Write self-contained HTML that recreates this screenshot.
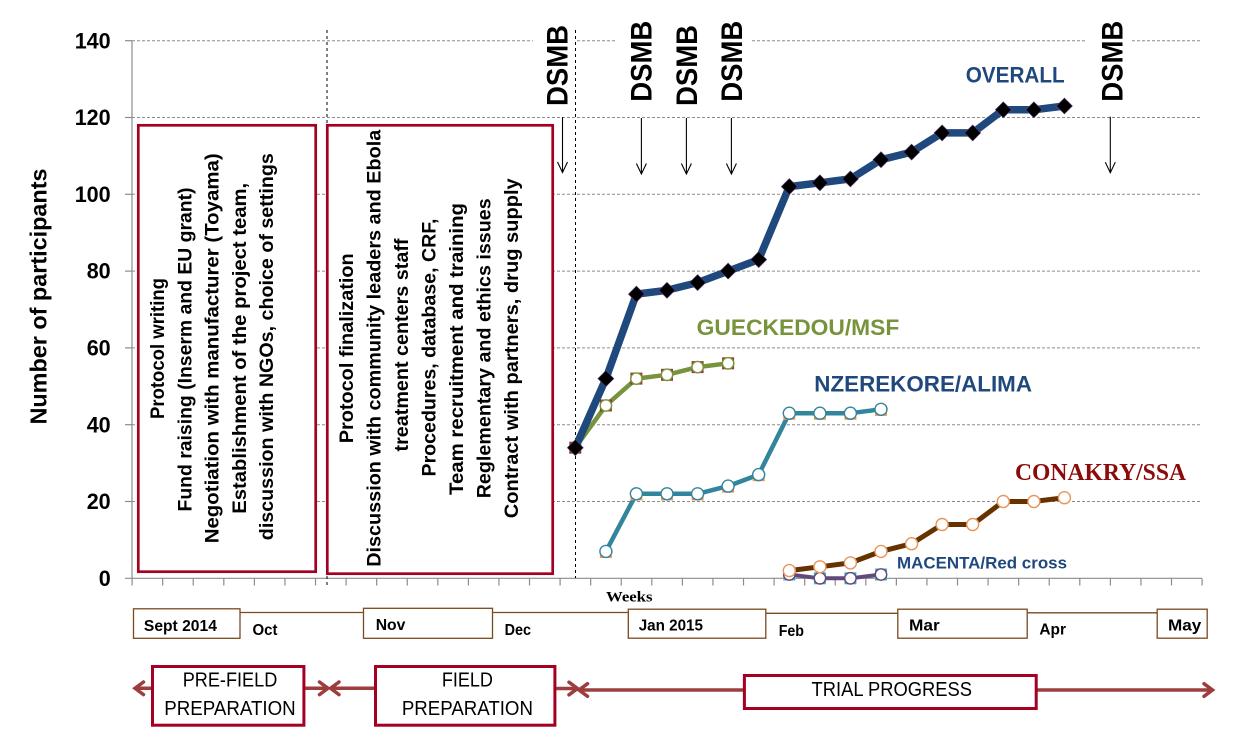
<!DOCTYPE html>
<html>
<head>
<meta charset="utf-8">
<style>
html,body{margin:0;padding:0;background:#fff;}
svg{display:block;}
text{font-family:"Liberation Sans",Arial,sans-serif;}
</style>
</head>
<body>
<svg width="1246" height="754" viewBox="0 0 1246 754" xmlns="http://www.w3.org/2000/svg">
<rect width="1246" height="754" fill="#fff"/>

<!-- gridlines -->
<g stroke="#8c8c8c" stroke-width="1" stroke-dasharray="3 2">
<line x1="132" y1="40.7" x2="1202" y2="40.7"/>
<line x1="132" y1="117.5" x2="1202" y2="117.5"/>
<line x1="132" y1="194.3" x2="1202" y2="194.3"/>
<line x1="132" y1="271.1" x2="1202" y2="271.1"/>
<line x1="132" y1="347.9" x2="1202" y2="347.9"/>
<line x1="132" y1="424.7" x2="1202" y2="424.7"/>
<line x1="132" y1="501.5" x2="1202" y2="501.5"/>
</g>
<!-- white gaps behind DSMB labels -->
<rect x="533" y="36" width="42" height="9" fill="#fff"/>
<rect x="617" y="36" width="134" height="9" fill="#fff"/>
<rect x="1086" y="36" width="45" height="9" fill="#fff"/>

<!-- axes -->
<g stroke="#8c8c8c" stroke-width="1.2">
<line x1="132" y1="40.7" x2="132" y2="578.3"/>
<line x1="125" y1="578.3" x2="1202" y2="578.3"/>
<line x1="125" y1="40.7" x2="132" y2="40.7"/>
<line x1="125" y1="117.5" x2="132" y2="117.5"/>
<line x1="125" y1="194.3" x2="132" y2="194.3"/>
<line x1="125" y1="271.1" x2="132" y2="271.1"/>
<line x1="125" y1="347.9" x2="132" y2="347.9"/>
<line x1="125" y1="424.7" x2="132" y2="424.7"/>
<line x1="125" y1="501.5" x2="132" y2="501.5"/>
</g>
<line x1="131.5" y1="582" x2="1203" y2="582" stroke="#8c8c8c" stroke-width="7" stroke-dasharray="1.2 29.371"/>

<!-- vertical dashed separators -->
<g stroke="#000" stroke-width="1" stroke-dasharray="3 3">
<line x1="327" y1="30" x2="327" y2="586"/>
<line x1="575.5" y1="30" x2="575.5" y2="578"/>
</g>

<!-- y tick labels -->
<g font-weight="bold" font-size="22" fill="#000" text-anchor="end">
<text x="110.7" y="48.3" textLength="36" lengthAdjust="spacingAndGlyphs">140</text>
<text x="110.7" y="125.1" textLength="36" lengthAdjust="spacingAndGlyphs">120</text>
<text x="110.7" y="201.9" textLength="36" lengthAdjust="spacingAndGlyphs">100</text>
<text x="110.7" y="278.7" textLength="24" lengthAdjust="spacingAndGlyphs">80</text>
<text x="110.7" y="355.5" textLength="24" lengthAdjust="spacingAndGlyphs">60</text>
<text x="110.7" y="432.3" textLength="24" lengthAdjust="spacingAndGlyphs">40</text>
<text x="110.7" y="509.1" textLength="24" lengthAdjust="spacingAndGlyphs">20</text>
<text x="110.7" y="585.9" textLength="12" lengthAdjust="spacingAndGlyphs">0</text>
</g>

<!-- y axis title -->
<text transform="translate(46.6,424.5) rotate(-90)" font-weight="bold" font-size="23" fill="#000" textLength="256" lengthAdjust="spacingAndGlyphs">Number of participants</text>

<!-- box 1 -->
<rect x="138.3" y="125.3" width="177.4" height="446.4" fill="#fff" stroke="#a50021" stroke-width="2.7"/>
<g font-weight="bold" font-size="19" fill="#000" text-anchor="middle">
<text transform="translate(164,348.5) rotate(-90)" textLength="141" lengthAdjust="spacingAndGlyphs">Protocol writing</text>
<text transform="translate(191.3,349.5) rotate(-90)" textLength="324" lengthAdjust="spacingAndGlyphs">Fund raising (Inserm and EU grant)</text>
<text transform="translate(218.6,348.3) rotate(-90)" textLength="390" lengthAdjust="spacingAndGlyphs">Negotiation with manufacturer (Toyama)</text>
<text transform="translate(245.9,348.3) rotate(-90)" textLength="331" lengthAdjust="spacingAndGlyphs">Establishment of the project team,</text>
<text transform="translate(273.2,346.7) rotate(-90)" textLength="387" lengthAdjust="spacingAndGlyphs">discussion with NGOs, choice of settings</text>
</g>

<!-- box 2 -->
<rect x="327.3" y="125.3" width="225.4" height="448.4" fill="#fff" stroke="#a50021" stroke-width="2.7"/>
<g font-weight="bold" font-size="19" fill="#000" text-anchor="middle">
<text transform="translate(353,348.3) rotate(-90)" textLength="190" lengthAdjust="spacingAndGlyphs">Protocol finalization</text>
<text transform="translate(380.5,348.3) rotate(-90)" textLength="437" lengthAdjust="spacingAndGlyphs">Discussion with community leaders and Ebola</text>
<text transform="translate(408,345) rotate(-90)" textLength="213" lengthAdjust="spacingAndGlyphs">treatment centers staff</text>
<text transform="translate(435.5,347.5) rotate(-90)" textLength="258" lengthAdjust="spacingAndGlyphs">Procedures, database, CRF,</text>
<text transform="translate(463,349) rotate(-90)" textLength="292" lengthAdjust="spacingAndGlyphs">Team recruitment and training</text>
<text transform="translate(490.5,348.3) rotate(-90)" textLength="300" lengthAdjust="spacingAndGlyphs">Reglementary and ethics issues</text>
<text transform="translate(518,348.3) rotate(-90)" textLength="340" lengthAdjust="spacingAndGlyphs">Contract with partners, drug supply</text>
</g>

<!-- DSMB labels -->
<g font-weight="bold" font-size="30" fill="#000">
<text transform="translate(567.5,106) rotate(-90)" textLength="81" lengthAdjust="spacingAndGlyphs">DSMB</text>
<text transform="translate(651.5,101.7) rotate(-90)" textLength="81" lengthAdjust="spacingAndGlyphs">DSMB</text>
<text transform="translate(696.8,106) rotate(-90)" textLength="81" lengthAdjust="spacingAndGlyphs">DSMB</text>
<text transform="translate(742.2,101.7) rotate(-90)" textLength="81" lengthAdjust="spacingAndGlyphs">DSMB</text>
<text transform="translate(1122.3,101.7) rotate(-90)" textLength="81" lengthAdjust="spacingAndGlyphs">DSMB</text>
</g>
<!-- DSMB arrows -->
<g stroke="#000" stroke-width="1.1" fill="none">
<line x1="562.5" y1="117" x2="562.5" y2="172.5"/><polyline points="557.5,162 562.5,172.5 567.5,162"/>
<line x1="641.4" y1="118" x2="641.4" y2="174"/><polyline points="636.4,163.5 641.4,174 646.4,163.5"/>
<line x1="686.4" y1="118" x2="686.4" y2="174"/><polyline points="681.4,163.5 686.4,174 691.4,163.5"/>
<line x1="731.4" y1="118" x2="731.4" y2="174"/><polyline points="726.4,163.5 731.4,174 736.4,163.5"/>
<line x1="1110.3" y1="116.7" x2="1110.3" y2="172.7"/><polyline points="1105.3,162.2 1110.3,172.7 1115.3,162.2"/>
</g>

<!-- MACENTA series -->
<polyline points="789.3,574.5 819.9,578.3 850.4,578.3 881.0,574.5" fill="none" stroke="#604a7b" stroke-width="4" stroke-linejoin="round"/>
<g fill="#4bacc6">
<rect x="783.3" y="568.5" width="12" height="12"/>
<rect x="813.9" y="572.3" width="12" height="12"/>
<rect x="844.4" y="572.3" width="12" height="12"/>
<rect x="875.0" y="568.5" width="12" height="12"/>
</g>
<g fill="#fff" stroke="#604a7b" stroke-width="1.4">
<circle cx="789.3" cy="574.5" r="5.7"/>
<circle cx="819.9" cy="578.3" r="5.7"/>
<circle cx="850.4" cy="578.3" r="5.7"/>
<circle cx="881.0" cy="574.5" r="5.7"/>
</g>

<!-- CONAKRY series -->
<polyline points="789.3,570.6 819.9,566.8 850.4,562.9 881.0,551.4 911.6,543.7 942.1,524.5 972.7,524.5 1003.3,501.5 1033.9,501.5 1064.4,497.7" fill="none" stroke="#663300" stroke-width="5" stroke-linejoin="round"/>
<g fill="#fff" stroke="#e8955a" stroke-width="1.4">
<circle cx="789.3" cy="570.6" r="6"/>
<circle cx="819.9" cy="566.8" r="6"/>
<circle cx="850.4" cy="562.9" r="6"/>
<circle cx="881.0" cy="551.4" r="6"/>
<circle cx="911.6" cy="543.7" r="6"/>
<circle cx="942.1" cy="524.5" r="6"/>
<circle cx="972.7" cy="524.5" r="6"/>
<circle cx="1003.3" cy="501.5" r="6"/>
<circle cx="1033.9" cy="501.5" r="6"/>
<circle cx="1064.4" cy="497.7" r="6"/>
</g>

<!-- NZEREKORE series -->
<polyline points="605.9,551.4 636.4,493.8 667.0,493.8 697.6,493.8 728.1,486.1 758.7,474.6 789.3,413.2 819.9,413.2 850.4,413.2 881.0,409.3" fill="none" stroke="#31859c" stroke-width="4.5" stroke-linejoin="round"/>
<g fill="#f79646">
<rect x="599.9" y="555" width="12" height="3"/>
<rect x="630.4" y="497.4" width="12" height="3"/>
<rect x="661.0" y="497.4" width="12" height="3"/>
<rect x="691.6" y="497.4" width="12" height="3"/>
<rect x="722.1" y="489.7" width="12" height="3"/>
<rect x="752.7" y="478.2" width="12" height="3"/>
<rect x="783.3" y="416.8" width="12" height="3"/>
<rect x="813.9" y="416.8" width="12" height="3"/>
<rect x="844.4" y="416.8" width="12" height="3"/>
<rect x="875.0" y="412.9" width="12" height="3"/>
</g>
<g fill="#fff" stroke="#31859c" stroke-width="1.4">
<circle cx="605.9" cy="551.4" r="6"/>
<circle cx="636.4" cy="493.8" r="6"/>
<circle cx="667.0" cy="493.8" r="6"/>
<circle cx="697.6" cy="493.8" r="6"/>
<circle cx="728.1" cy="486.1" r="6"/>
<circle cx="758.7" cy="474.6" r="6"/>
<circle cx="789.3" cy="413.2" r="6"/>
<circle cx="819.9" cy="413.2" r="6"/>
<circle cx="850.4" cy="413.2" r="6"/>
<circle cx="881.0" cy="409.3" r="6"/>
</g>

<!-- GUECKEDOU series -->
<polyline points="575.3,447.7 605.9,405.5 636.4,378.6 667.0,374.8 697.6,367.1 728.1,363.3" fill="none" stroke="#77933c" stroke-width="4.5" stroke-linejoin="round"/>
<g fill="#953735">
<rect x="569.3" y="441.7" width="12" height="12"/>
<rect x="599.9" y="399.5" width="12" height="12"/>
<rect x="630.4" y="372.6" width="12" height="12"/>
<rect x="661.0" y="368.8" width="12" height="12"/>
<rect x="691.6" y="361.1" width="12" height="12"/>
<rect x="722.1" y="357.3" width="12" height="12"/>
</g>
<g fill="#fff" stroke="#77933c" stroke-width="1.4">
<circle cx="605.9" cy="405.5" r="5.7"/>
<circle cx="636.4" cy="378.6" r="5.7"/>
<circle cx="667.0" cy="374.8" r="5.7"/>
<circle cx="697.6" cy="367.1" r="5.7"/>
<circle cx="728.1" cy="363.3" r="5.7"/>
</g>

<!-- OVERALL series -->
<polyline points="575.3,447.7 605.9,378.6 636.4,294.1 667.0,290.3 697.6,282.6 728.1,271.1 758.7,259.6 789.3,186.6 819.9,182.8 850.4,178.9 881.0,159.7 911.6,152.1 942.1,132.9 972.7,132.9 1003.3,109.8 1033.9,109.8 1064.4,106.0" fill="none" stroke="#1f497d" stroke-width="7.5" stroke-linejoin="round"/>
<g fill="#000" stroke="#5a3d7a" stroke-width="0.6">
<polygon points="575.3,439.7 583.3,447.7 575.3,455.7 567.3,447.7"/>
<polygon points="605.9,370.6 613.9,378.6 605.9,386.6 597.9,378.6"/>
<polygon points="636.4,286.1 644.4,294.1 636.4,302.1 628.4,294.1"/>
<polygon points="667.0,282.3 675.0,290.3 667.0,298.3 659.0,290.3"/>
<polygon points="697.6,274.6 705.6,282.6 697.6,290.6 689.6,282.6"/>
<polygon points="728.1,263.1 736.1,271.1 728.1,279.1 720.1,271.1"/>
<polygon points="758.7,251.6 766.7,259.6 758.7,267.6 750.7,259.6"/>
<polygon points="789.3,178.6 797.3,186.6 789.3,194.6 781.3,186.6"/>
<polygon points="819.9,174.8 827.9,182.8 819.9,190.8 811.9,182.8"/>
<polygon points="850.4,170.9 858.4,178.9 850.4,186.9 842.4,178.9"/>
<polygon points="881.0,151.7 889.0,159.7 881.0,167.7 873.0,159.7"/>
<polygon points="911.6,144.1 919.6,152.1 911.6,160.1 903.6,152.1"/>
<polygon points="942.1,124.9 950.1,132.9 942.1,140.9 934.1,132.9"/>
<polygon points="972.7,124.9 980.7,132.9 972.7,140.9 964.7,132.9"/>
<polygon points="1003.3,101.8 1011.3,109.8 1003.3,117.8 995.3,109.8"/>
<polygon points="1033.9,101.8 1041.9,109.8 1033.9,117.8 1025.9,109.8"/>
<polygon points="1064.4,98.0 1072.4,106.0 1064.4,114.0 1056.4,106.0"/>
</g>

<!-- series labels -->
<g font-weight="bold">
<text x="965.7" y="82.7" font-size="22" fill="#1f497d" textLength="99" lengthAdjust="spacingAndGlyphs">OVERALL</text>
<text x="696.7" y="335" font-size="22" fill="#77933c" textLength="202.6" lengthAdjust="spacingAndGlyphs">GUECKEDOU/MSF</text>
<text x="814.3" y="391.7" font-size="22" fill="#1f497d" textLength="217.7" lengthAdjust="spacingAndGlyphs">NZEREKORE/ALIMA</text>
<text x="1015" y="480" font-size="24" fill="#8b0a0a" style="font-family:'Liberation Serif','Times New Roman',serif" textLength="171" lengthAdjust="spacingAndGlyphs">CONAKRY/SSA</text>
<text x="897" y="568.7" font-size="17" fill="#1f497d" textLength="170" lengthAdjust="spacingAndGlyphs">MACENTA/Red cross</text>
</g>

<!-- Weeks -->
<text x="606" y="601.5" style="font-family:'Liberation Serif','Times New Roman',serif" font-weight="bold" font-size="15" fill="#000" textLength="46.5" lengthAdjust="spacingAndGlyphs">Weeks</text>

<!-- month timeline -->
<g stroke="#7a4a1e" stroke-width="1.3" fill="none">
<rect x="133.5" y="608.8" width="106.5" height="29.5"/>
<rect x="363.5" y="608.3" width="129" height="30"/>
<rect x="628.3" y="609.2" width="137.5" height="29"/>
<rect x="897.8" y="609.2" width="129.4" height="29"/>
<rect x="1157.2" y="609.2" width="50" height="29"/>
<line x1="240" y1="612.5" x2="363.5" y2="612.5"/>
<line x1="492.5" y1="612.5" x2="628.3" y2="612.5"/>
<line x1="765.8" y1="613.3" x2="897.8" y2="613.3"/>
<line x1="1027.2" y1="612.8" x2="1157.2" y2="612.8"/>
</g>
<g font-weight="bold" font-size="16" fill="#000">
<text x="143.9" y="631" textLength="73" lengthAdjust="spacingAndGlyphs">Sept 2014</text>
<text x="252.5" y="635" textLength="25" lengthAdjust="spacingAndGlyphs">Oct</text>
<text x="375.7" y="630" textLength="29.7" lengthAdjust="spacingAndGlyphs">Nov</text>
<text x="504.6" y="635" textLength="26.4" lengthAdjust="spacingAndGlyphs">Dec</text>
<text x="638.7" y="630.7" textLength="64.3" lengthAdjust="spacingAndGlyphs">Jan 2015</text>
<text x="778.7" y="636" textLength="25.3" lengthAdjust="spacingAndGlyphs">Feb</text>
<text x="909" y="630.7" textLength="30.7" lengthAdjust="spacingAndGlyphs">Mar</text>
<text x="1039.4" y="634.3" textLength="26.6" lengthAdjust="spacingAndGlyphs">Apr</text>
<text x="1168" y="630.7" textLength="33.3" lengthAdjust="spacingAndGlyphs">May</text>
</g>

<!-- phase arrows -->
<g stroke="#9e3d3d" stroke-width="3.5" fill="none" stroke-linecap="round">
<line x1="136" y1="688.3" x2="152" y2="688.3"/>
<polyline points="143.5,682 135,688.3 143.5,694.6"/>
<line x1="305" y1="688.3" x2="326" y2="688.3"/>
<polyline points="319.5,682 328,688.3 319.5,694.6"/>
<line x1="332.5" y1="688.3" x2="374" y2="688.3"/>
<polyline points="339,682 330.5,688.3 339,694.6"/>
<line x1="556" y1="688.5" x2="575.5" y2="688.5"/>
<polyline points="569,682.2 577.5,688.5 569,694.8"/>
<line x1="581" y1="690" x2="743" y2="690"/>
<polyline points="587.5,683.7 579,690 587.5,696.3"/>
<line x1="1038" y1="690" x2="1210.5" y2="690"/>
<polyline points="1204,683.7 1212.5,690 1204,696.3"/>
</g>

<!-- phase boxes -->
<g fill="#fff" stroke="#a50021" stroke-width="3">
<rect x="152.5" y="666.5" width="151.4" height="58.7"/>
<rect x="375.5" y="666.5" width="179.4" height="58.7"/>
<rect x="744.4" y="675.5" width="291.8" height="33"/>
</g>
<g font-size="20" fill="#000" text-anchor="middle">
<text x="230" y="686.7" textLength="94.6" lengthAdjust="spacingAndGlyphs">PRE-FIELD</text>
<text x="230" y="715" textLength="131.4" lengthAdjust="spacingAndGlyphs">PREPARATION</text>
<text x="467.4" y="686.7" textLength="51.1" lengthAdjust="spacingAndGlyphs">FIELD</text>
<text x="467.4" y="715" textLength="131.1" lengthAdjust="spacingAndGlyphs">PREPARATION</text>
<text x="891.8" y="696" textLength="160.5" lengthAdjust="spacingAndGlyphs">TRIAL PROGRESS</text>
</g>
</svg>
</body>
</html>
